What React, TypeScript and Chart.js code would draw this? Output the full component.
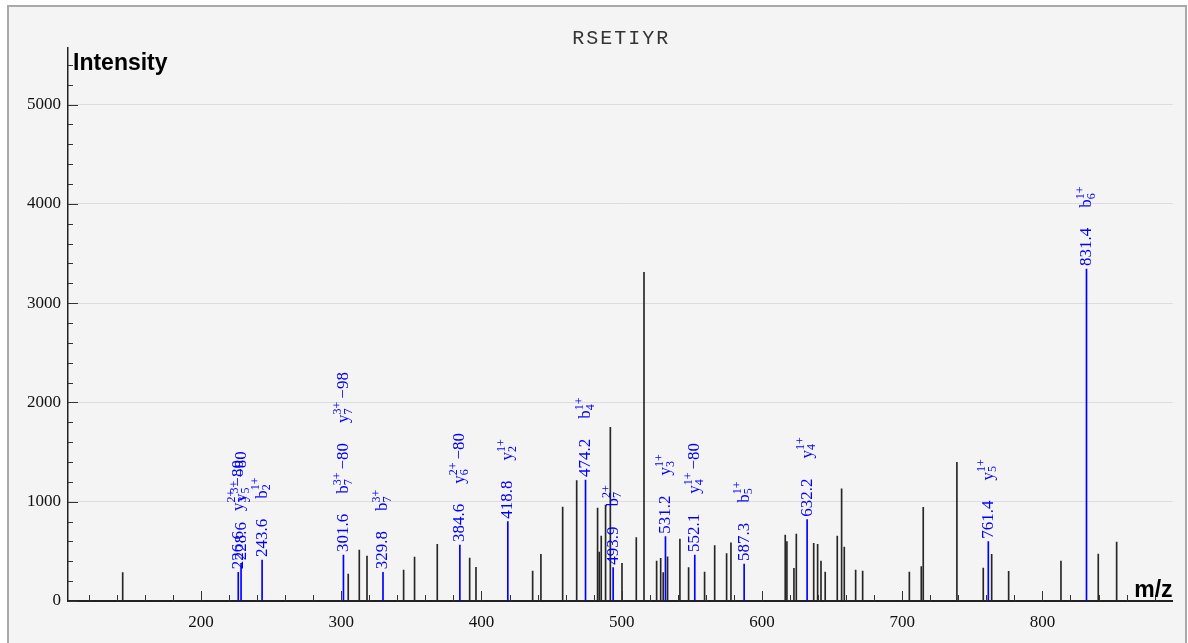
import React, { useEffect, useRef } from 'react';
import { Chart, registerables } from 'chart.js';

Chart.register(...registerables);

const TITLE = 'RSETIYR';
const X_LABEL = 'm/z';
const Y_LABEL = 'Intensity';
const X_RANGE = [105.2, 892.8];
const Y_RANGE = [0, 5570];
const X_TICK_MAJOR = 100;
const X_TICK_MINOR = 20;
const Y_TICK_MAJOR = 1000;
const Y_TICK_MINOR = 200;
const Y_TICK_LABELS = [0, 1000, 2000, 3000, 4000, 5000];
const X_TICK_LABELS = [200, 300, 400, 500, 600, 700, 800];

// Unmatched (gray) peaks
const grayMz = [144.2, 305.0, 312.9, 318.4, 344.5, 352.3, 368.5, 391.6, 396.1, 436.5, 442.4, 457.9, 467.9, 482.8, 484.0, 485.4, 488.5, 491.9, 500.2, 510.4, 515.9, 524.9, 527.8, 529.6, 532.7, 541.5, 547.7, 559.1, 566.3, 574.8, 577.9, 616.6, 617.8, 622.8, 624.5, 636.9, 639.7, 642.1, 645.1, 653.7, 656.8, 658.7, 666.8, 671.8, 705.1, 713.6, 715.0, 739.0, 757.8, 763.8, 775.9, 813.2, 839.8, 852.9];
const grayIntensity = [285, 272, 514, 453, 312, 443, 571, 433, 339, 302, 470, 947, 1212, 937, 493, 655, 967, 1749, 379, 638, 3310, 403, 430, 285, 446, 624, 336, 292, 557, 477, 587, 665, 598, 329, 675, 581, 571, 403, 292, 655, 1131, 544, 312, 302, 292, 346, 943, 1397, 332, 470, 299, 403, 473, 594];

// Matched (blue) peaks
const matchedMz = [226.6, 228.6, 243.6, 301.6, 329.8, 384.6, 418.8, 474.2, 493.9, 531.2, 552.1, 587.3, 632.2, 761.4, 831.4];
const matchedIntensity = [290, 380, 413, 463, 289, 564, 799, 1219, 336, 648, 463, 373, 819, 598, 3343];
const matchedIons = [
  ['y3^2+-80'],
  ['y5^3+-80'],
  ['b2^1+'],
  ['b7^3+-80', 'y7^3+-98'],
  ['b7^3+'],
  ['y6^2+-80'],
  ['y2^1+'],
  ['b4^1+'],
  ['b7^2+'],
  ['y3^1+'],
  ['y4^1+-80'],
  ['b5^1+'],
  ['y4^1+'],
  ['y5^1+'],
  ['b6^1+'],
];

const BIG_FONT = '17px "Liberation Serif", "Times New Roman", serif';
const SMALL_FONT = '12px "Liberation Serif", "Times New Roman", serif';

function drawIon(ctx: CanvasRenderingContext2D, text: string, start: number): number {
  const m = /^([a-z])(\d+)\^(\d\+)(.*)$/.exec(text);
  if (!m) return 0;
  const base = m[1], sub = m[2], sup = m[3], loss = m[4];
  ctx.font = BIG_FONT;
  ctx.fillText(base, start, 0);
  let w = ctx.measureText(base).width;
  ctx.font = SMALL_FONT;
  const wsup = ctx.measureText(sup).width;
  const wsub = ctx.measureText(sub).width;
  ctx.fillText(sup, start + w, -6);
  ctx.fillText(sub, start + w, 5);
  w += Math.max(wsup, wsub);
  if (loss) {
    const l = loss.replace('-', '\u2212');
    ctx.font = BIG_FONT;
    w += 3;
    ctx.fillText(l, start + w, 0);
    w += ctx.measureText(l).width;
  }
  return w;
}

const decorPlugin = {
  id: 'spectrumDecor',
  afterDatasetsDraw(chart: any) {
    const { ctx, chartArea, scales } = chart;
    const xs = scales.x;
    const ys = scales.y;
    ctx.save();
    // inward ticks
    ctx.strokeStyle = '#333';
    ctx.lineWidth = 1;
    for (let v = Y_RANGE[0]; v < Y_RANGE[1]; v += Y_TICK_MINOR) {
      const y = Math.round(ys.getPixelForValue(v)) + 0.5;
      const len = v % Y_TICK_MAJOR === 0 ? 10 : 5;
      ctx.beginPath();
      ctx.moveTo(chartArea.left, y);
      ctx.lineTo(chartArea.left + len, y);
      ctx.stroke();
    }
    const firstX = Math.ceil(X_RANGE[0] / X_TICK_MINOR) * X_TICK_MINOR;
    for (let v = firstX; v < X_RANGE[1]; v += X_TICK_MINOR) {
      const x = Math.round(xs.getPixelForValue(v)) + 0.5;
      const len = v % X_TICK_MAJOR === 0 ? 10 : 6;
      ctx.beginPath();
      ctx.moveTo(x, chartArea.bottom);
      ctx.lineTo(x, chartArea.bottom - len);
      ctx.stroke();
    }
    // peak annotations
    ctx.fillStyle = '#0000ff';
    ctx.textBaseline = 'middle';
    ctx.textAlign = 'left';
    matchedMz.forEach((mz, i) => {
      const x = xs.getPixelForValue(mz);
      const y = ys.getPixelForValue(matchedIntensity[i]);
      ctx.save();
      ctx.translate(x, y);
      ctx.rotate(-Math.PI / 2);
      ctx.font = BIG_FONT;
      const t = mz.toFixed(1);
      ctx.fillText(t, 3, 0);
      let cur = 3 + ctx.measureText(t).width + 20;
      for (const ion of matchedIons[i]) {
        cur += drawIon(ctx, ion, cur) + 20;
      }
      ctx.restore();
    });
    ctx.restore();
  },
  afterDraw(chart: any) {
    const { ctx, chartArea } = chart;
    ctx.save();
    ctx.fillStyle = '#000';
    ctx.textBaseline = 'alphabetic';
    ctx.font = 'bold 23px "Liberation Sans", Arial, sans-serif';
    ctx.textAlign = 'left';
    ctx.fillText(Y_LABEL, chartArea.left + 5, chartArea.top + 22);
    ctx.textAlign = 'right';
    ctx.fillText(X_LABEL, chartArea.right, chartArea.bottom - 4);
    ctx.fillStyle = '#333';
    ctx.font = '20px "Liberation Mono", "DejaVu Sans Mono", monospace';
    (ctx as any).letterSpacing = '2px';
    ctx.textAlign = 'left';
    const w = ctx.measureText(TITLE).width - 2;
    ctx.fillText(TITLE, (chartArea.left + chartArea.right) / 2 - w / 2, 44);
    ctx.restore();
  },
};

export default function App() {
  const canvasRef = useRef<HTMLCanvasElement | null>(null);

  useEffect(() => {
    const canvas = canvasRef.current;
    if (!canvas) return;
    const chart = new Chart(canvas, {
      type: 'bar',
      data: {
        datasets: [
          {
            label: 'unmatched',
            data: grayMz.map((x, i) => ({ x, y: grayIntensity[i] })),
            backgroundColor: '#262626',
            barThickness: 1,
            grouped: false,
          } as any,
          {
            label: 'matched',
            data: matchedMz.map((x, i) => ({ x, y: matchedIntensity[i] })),
            backgroundColor: '#0000ff',
            barThickness: 1,
            grouped: false,
          } as any,
        ],
      },
      options: {
        responsive: false,
        animation: false,
        devicePixelRatio: 1,
        layout: { padding: { left: 8, top: 48, right: 15.4, bottom: 12 } },
        plugins: {
          legend: { display: false },
          tooltip: { enabled: false },
          title: { display: false },
        },
        scales: {
          x: {
            type: 'linear',
            offset: false,
            min: X_RANGE[0],
            max: X_RANGE[1],
            afterFit: (s: any) => { s.height = 30; },
            afterBuildTicks: (s: any) => { s.ticks = X_TICK_LABELS.map((value) => ({ value })); },
            grid: { display: false, drawTicks: false, offset: false },
            border: { display: true, color: '#222', width: 2 },
            ticks: {
              autoSkip: false,
              maxRotation: 0,
              padding: 11,
              color: '#111',
              callback: (v: any) => String(v),
              font: { family: '"Liberation Serif", "Times New Roman", serif', size: 17 },
            },
          },
          y: {
            type: 'linear',
            min: Y_RANGE[0],
            max: Y_RANGE[1],
            afterFit: (s: any) => { s.width = 60; },
            afterBuildTicks: (s: any) => { s.ticks = Y_TICK_LABELS.map((value) => ({ value })); },
            grid: { color: '#dcdcdc', lineWidth: 1, drawTicks: false },
            border: { display: true, color: '#222', width: 1.5 },
            ticks: {
              padding: 7,
              color: '#111',
              callback: (v: any) => String(v),
              font: { family: '"Liberation Serif", "Times New Roman", serif', size: 17 },
            },
          },
        },
      } as any,
      plugins: [decorPlugin],
    });
    return () => chart.destroy();
  }, []);

  return (
    <div>
      <div
        style={{
          position: 'absolute',
          left: 7,
          top: 5,
          width: 1176,
          height: 660,
          border: '2px solid #a9a9a9',
          background: '#f4f4f4',
        }}
      />
      <canvas
        ref={canvasRef}
        width={1188}
        height={643}
        style={{ position: 'absolute', left: 0, top: 0, width: 1188, height: 643 }}
      />
    </div>
  );
}
